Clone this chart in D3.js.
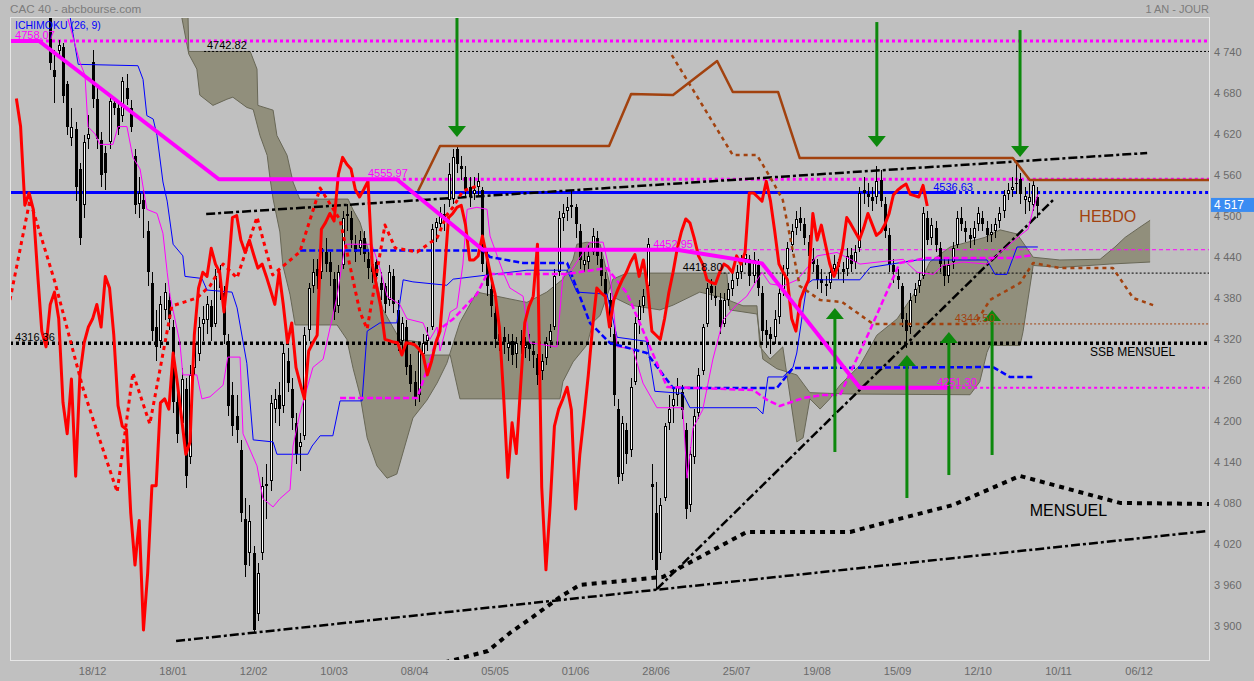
<!DOCTYPE html>
<html>
<head>
<meta charset="utf-8">
<title>CAC 40 - Ichimoku</title>
<script src="https://cdn.jsdelivr.net/npm/d3@7/dist/d3.min.js"></script>
<style>
  body { margin: 0; background: #c0c0c0; }
  svg  { display: block; font-family: "Liberation Sans", Arial, sans-serif; }
</style>
</head>
<body>
<svg id="chart" width="1254" height="681"></svg>
<script>
"use strict"

// bars are trading-day indexes, bar 0 sits at the left edge of the plot
var tickBars   = [19, 38, 57, 76, 95, 114, 133, 152, 171, 190, 209, 228, 247, 266];
var tickLabels = ['18/12', '18/01', '12/02', '10/03', '08/04', '05/05', '01/06',
                  '28/06', '25/07', '19/08', '15/09', '12/10', '10/11', '06/12'];
var priceTicks = [3900, 3960, 4020, 4080, 4140, 4200, 4260, 4320, 4380, 4440,
                  4500, 4560, 4620, 4680, 4740];
var lastPrice   = 4517;
var firstBar    = 9;
var chikouShift = 26;

// daily candles [open, high, low, close], bar 9 .. bar 242
var candles = [
  [4800,4830,4715,4726],[4716,4745,4668,4706],[4743,4760,4735,4752],[4749,4755,4668,4677],
  [4695,4700,4620,4633],[4616,4660,4605,4633],[4630,4640,4524,4544],[4571,4580,4460,4470],
  [4518,4620,4500,4611],[4615,4650,4600,4622],[4727,4745,4660,4674],[4674,4690,4600,4615],
  [4613,4625,4545,4562],[4594,4605,4540,4565],[4610,4680,4600,4671],[4668,4675,4650,4660],
  [4660,4670,4620,4630],[4648,4705,4640,4700],[4689,4710,4665,4674],[4660,4672,4625,4633],
  [4590,4600,4505,4518],[4520,4560,4500,4536],[4525,4540,4470,4512],[4480,4495,4400,4420],
  [4405,4420,4320,4334],[4340,4365,4290,4311],[4320,4385,4310,4373],[4365,4405,4350,4391],
  [4380,4390,4335,4352],[4340,4350,4215,4230],[4230,4260,4170,4184],[4200,4280,4190,4264],
  [4250,4265,4105,4122],[4150,4285,4140,4270],[4280,4330,4270,4317],[4300,4355,4290,4340],
  [4345,4370,4320,4352],[4350,4385,4330,4373],[4370,4380,4320,4340],[4345,4425,4340,4414],
  [4410,4430,4380,4397],[4390,4400,4315,4328],[4320,4330,4210,4225],[4240,4260,4180,4195],
  [4210,4240,4170,4190],[4160,4175,4055,4068],[4060,4090,3975,3992],[4010,4080,3990,4057],
  [4010,4020,3892,3897],[3920,3995,3910,3981],[4010,4120,4000,4108],[4110,4140,4060,4108],
  [4115,4240,4100,4229],[4220,4250,4200,4235],[4240,4260,4195,4220],[4225,4315,4215,4302],
  [4290,4310,4245,4258],[4250,4265,4190,4207],[4200,4215,4140,4154],[4165,4185,4130,4172],
  [4180,4340,4175,4328],[4335,4405,4320,4397],[4400,4440,4390,4420],[4425,4440,4395,4414],
  [4420,4465,4410,4455],[4450,4470,4420,4432],[4435,4450,4400,4420],[4410,4420,4350,4362],
  [4370,4430,4360,4420],[4430,4510,4425,4500],[4505,4520,4480,4503],[4500,4510,4455,4467],
  [4460,4475,4435,4449],[4455,4480,4445,4467],[4470,4480,4435,4446],[4440,4450,4410,4426],
  [4420,4445,4405,4432],[4435,4440,4400,4414],[4405,4420,4380,4394],[4400,4405,4360,4373],
  [4380,4430,4370,4420],[4415,4425,4360,4373],[4365,4380,4305,4317],[4320,4355,4300,4346],
  [4340,4350,4270,4281],[4285,4300,4245,4257],[4260,4275,4225,4235],[4240,4315,4230,4305],
  [4300,4330,4295,4317],[4320,4340,4305,4328],[4340,4490,4335,4483],[4485,4500,4465,4493],
  [4490,4515,4480,4506],[4505,4520,4480,4495],[4525,4580,4515,4563],[4527,4600,4520,4588],
  [4600,4604,4565,4578],[4575,4590,4555,4571],[4560,4575,4530,4541],[4545,4560,4515,4530],
  [4535,4560,4525,4541],[4545,4565,4530,4553],[4540,4545,4420,4432],[4440,4455,4385,4400],
  [4395,4410,4355,4370],[4360,4375,4310,4322],[4330,4345,4305,4320],[4325,4340,4300,4318],
  [4310,4330,4290,4317],[4320,4330,4285,4299],[4300,4325,4280,4317],[4320,4335,4300,4316],
  [4310,4325,4295,4314],[4315,4330,4290,4308],[4305,4315,4280,4299],[4295,4300,4255,4270],
  [4275,4300,4262,4290],[4295,4325,4285,4317],[4320,4345,4310,4334],[4340,4425,4335,4414],
  [4420,4510,4415,4500],[4500,4520,4480,4506],[4510,4530,4495,4515],[4515,4540,4500,4518],
  [4515,4520,4470,4490],[4480,4490,4425,4438],[4430,4455,4420,4438],[4435,4460,4425,4444],
  [4450,4485,4445,4473],[4470,4480,4430,4444],[4440,4450,4400,4414],[4410,4420,4375,4388],
  [4380,4390,4325,4340],[4330,4340,4225,4240],[4220,4235,4110,4120],[4125,4210,4115,4200],
  [4190,4200,4140,4155],[4160,4265,4150,4252],[4260,4355,4255,4346],[4350,4380,4330,4370],
  [4370,4395,4360,4385],[4400,4470,4395,4461],[4111,4140,4000,4106],[4068,4113,3956,3985],
  [4010,4090,4000,4080],[4090,4200,4085,4195],[4200,4240,4190,4220],[4225,4250,4200,4235],
  [4240,4265,4225,4252],[4245,4255,4205,4219],[4190,4200,4060,4074],[4080,4165,4070,4154],
  [4150,4220,4140,4210],[4215,4280,4205,4270],[4275,4345,4270,4340],[4345,4405,4340,4397],
  [4400,4410,4380,4390],[4385,4400,4370,4385],[4380,4390,4330,4340],[4345,4390,4340,4379],
  [4380,4405,4370,4395],[4395,4420,4385,4409],[4410,4430,4400,4420],[4420,4445,4410,4435],
  [4440,4455,4430,4446],[4440,4445,4400,4414],[4415,4450,4405,4438],[4430,4440,4385,4397],
  [4390,4400,4320,4334],[4335,4350,4310,4328],[4330,4340,4300,4322],[4325,4365,4315,4352],
  [4355,4400,4345,4390],[4395,4430,4385,4420],[4425,4465,4415,4455],[4460,4490,4450,4480],
  [4485,4510,4475,4498],[4500,4515,4480,4492],[4490,4500,4460,4470],[4465,4475,4430,4444],
  [4440,4455,4420,4432],[4430,4440,4395,4409],[4410,4425,4390,4405],[4400,4415,4385,4403],
  [4405,4430,4395,4420],[4425,4445,4415,4432],[4435,4440,4410,4428],[4425,4435,4405,4420],
  [4425,4455,4415,4444],[4445,4455,4420,4432],[4435,4460,4425,4449],[4455,4545,4450,4536],
  [4540,4560,4520,4536],[4535,4550,4515,4530],[4530,4545,4510,4524],[4530,4575,4520,4553],
  [4555,4570,4515,4524],[4520,4530,4470,4480],[4475,4485,4420,4432],[4430,4440,4405,4420],
  [4415,4425,4395,4409],[4400,4405,4340,4352],[4350,4360,4310,4334],[4340,4390,4330,4379],
  [4385,4405,4375,4395],[4400,4420,4390,4409],[4415,4515,4410,4506],[4500,4510,4460,4467],
  [4470,4500,4460,4489],[4485,4495,4450,4460],[4455,4465,4420,4432],[4430,4440,4400,4414],
  [4415,4440,4405,4430],[4435,4465,4425,4455],[4460,4510,4455,4500],[4500,4515,4480,4490],
  [4485,4495,4465,4479],[4475,4485,4455,4468],[4470,4495,4460,4485],[4490,4515,4480,4506],
  [4500,4510,4480,4490],[4485,4495,4465,4474],[4475,4490,4465,4479],[4480,4500,4470,4490],
  [4495,4515,4485,4506],[4510,4540,4500,4533],[4535,4550,4525,4540],[4540,4560,4530,4545],
  [4550,4582,4535,4549],[4556,4565,4520,4534],[4525,4545,4505,4532],[4523,4550,4510,4530],
  [4518,4555,4510,4547],[4530,4545,4500,4517]
];

// ichimoku lines [bar, value]
var tenkanPts = [[13.2,4790],[16,4727],[17.2,4708],[17.9,4633],[19.6,4622],[20.7,4607],[23.8,4607],
  [25,4633],[27.1,4633],[28.5,4588],[30.2,4571],[31.8,4512],[34.2,4506],[35.6,4477],[36.6,4420],
  [37.3,4385],[39.6,4317],[40.3,4270],[43.6,4270],[44.8,4235],[46.7,4238],[49.8,4255],[50.9,4296],
  [53.8,4296],[54.5,4184],[57.8,4137],[59.2,4089],[61.6,4077],[63.2,4089],[65.6,4102],[66.3,4166],
  [67.9,4213],[71,4281],[73.4,4293],[76.7,4385],[78.6,4461],[84.9,4461],[86.8,4426],[88.5,4385],
  [91.5,4373],[93.2,4352],[97,4346],[98.6,4322],[100.3,4340],[101,4305],[103.4,4362],[105,4368],
  [106.4,4432],[107.4,4512],[109.7,4515],[112.1,4512],[112.8,4473],[115.9,4420],[117.5,4397],
  [120.6,4385],[122.2,4317],[128.6,4311],[130,4414],[131.7,4420],[136.4,4464],[139.5,4464],
  [141.1,4420],[142.8,4311],[146.5,4308],[148.9,4258],[152.2,4222],[158.3,4222],[159.3,4119],
  [160.7,4192],[163,4219],[165.4,4293],[167.8,4350],[171.1,4373],[173.4,4385],[177,4420],
  [178.9,4403],[182,4400],[185.3,4409],[190,4444],[194.7,4449],[200.1,4432],[210.3,4439],
  [213.6,4420],[217.4,4417],[219.7,4430],[224.4,4435],[230.1,4432],[233.2,4449],[237.9,4474],
  [239.8,4483],[241,4512],[242.1,4534]];
var kijunPts = [[13.5,4800],[15.6,4724],[29.7,4722],[30.9,4702],[31.8,4649],[33.3,4644],[34.2,4620],
  [35.6,4552],[36.6,4524],[38,4461],[40.3,4444],[40.8,4414],[44.8,4411],[46,4394],[51.9,4391],
  [53.1,4368],[55.4,4287],[56.9,4175],[61.6,4172],[62.5,4154],[69.8,4154],[70.8,4166],[72.7,4181],
  [75.7,4181],[77.4,4232],[82.6,4232],[83.8,4334],[86.8,4346],[90.8,4346],[92.3,4409],[94.6,4406],
  [102.6,4401],[104.1,4410],[121.5,4423],[131,4423],[133.3,4391],[140.4,4388],[142.8,4325],
  [149.8,4319],[151.7,4246],[158.3,4243],[160,4222],[175.8,4222],[177.2,4213],[178.4,4267],
  [181.9,4267],[184.3,4281],[185.2,4302],[187.6,4403],[189,4409],[200.1,4409],[202.5,4427],
  [213.6,4438],[230.1,4438],[232,4417],[234.8,4417],[237.2,4457],[242.1,4457]];
var ssaPts = [[39.6,4807],[41.7,4739],[43.6,4717],[44.3,4679],[47.4,4664],[50.7,4673],[52.1,4676],
  [55.4,4661],[56.9,4658],[58.5,4620],[60.2,4591],[60.9,4556],[61.6,4527],[63.2,4479],[63.9,4430],
  [65.6,4387],[66.8,4343],[76.7,4343],[79,4322],[80.5,4279],[82.1,4241],[83.8,4178],[86.1,4137],
  [88.5,4119],[90.8,4125],[92.7,4166],[94.6,4207],[97.9,4233],[100.3,4258],[102.6,4287],
  [105.7,4347],[109.7,4391],[117.5,4381],[121.5,4376],[126.2,4391],[130,4410],[132.4,4439],
  [133.3,4461],[135.7,4464],[138.8,4461],[141.8,4384],[145.8,4372],[152.9,4365],[156,4372],
  [162.3,4391],[167.1,4384],[172.5,4371],[175.8,4371],[176.5,4311],[178.9,4293],[181.9,4311],
  [185.2,4172],[186.7,4178],[188.3,4235],[190.7,4220],[193,4235],[195.4,4255],[200.1,4284],
  [204.1,4328],[208.9,4352],[213.6,4395],[216.6,4435],[221.4,4457],[229.6,4471],[233.2,4482],
  [237.2,4476],[241,4442],[247.3,4438],[256.8,4439],[260.3,4457],[262.7,4471],[266.2,4486],
  [268.6,4496]];
var ssbPts = [[40.1,4800],[41.5,4800],[41.7,4742.82],[56.2,4742.82],[57.8,4717],[58,4664],
  [61.6,4657],[62.5,4620],[64.9,4591],[66.3,4552],[67.5,4533],[67.9,4527],[79.3,4527],[80.5,4511],
  [82.1,4493],[85.2,4430],[87.5,4366],[91.5,4322],[96.3,4318],[97,4299],[103.4,4299],[105.7,4235],
  [129.3,4235],[130,4260],[132.4,4289],[135.7,4314],[137.1,4347],[138.8,4357],[141.8,4410],
  [145.1,4418.8],[168.7,4418.8],[169.4,4365],[175.8,4359],[177.2,4293],[180.5,4279],[185.2,4270],
  [188.3,4244],[197.8,4242],[226.1,4241],[228.4,4260],[230.1,4303],[230.8,4313],[237.9,4313],
  [238.6,4333],[241,4430],[247.3,4427],[259.1,4432],[268.6,4435]];

// hand-drawn studies [bar, value]
var monthlyPts  = [[-0.5,4758.07],[6.35,4758.07],[48.8,4555.97],[90.8,4555.97],[111.1,4452.95],
  [156.9,4452.95],[177,4433],[200.1,4251.3],[221.4,4251.3]];
var monthlyLagPts = [[77.4,4236.2],[95.6,4236.2],[98,4278.6],[101,4337.1],[104.1,4351.7],
  [109.7,4388.2],[112.1,4417.5],[131,4417.5],[140.4,4426.3],[145.1,4389.7],[154.6,4252.3],
  [174.9,4247.9],[178.2,4233.3],[181.2,4224.5],[186.7,4236.2],[191.4,4240.6],[195.4,4240.6],
  [197.8,4272.8],[202.5,4335.6],[209.5,4433.6],[215.9,4440.9],[236.2,4440.9],[241,4445.3]];
var weeklyPts = [[95.8,4538.8],[101,4604.6],[140.9,4604.6],[146.1,4680.6],[156,4679.1],
  [166.4,4728.8],[170.1,4683.5],[180.8,4683.5],[185.9,4587],[236.2,4587],[240.2,4555],[282.5,4555]];
var weeklyLagPts = [[155.7,4737.6],[170.1,4591.4],[175.8,4591.4],[178.9,4559.3],[181.9,4525.7],
  [185.9,4399.9],[190.7,4379.5],[195.9,4376.5],[203.2,4344.5],[227.3,4344.5],[230.8,4379.5],
  [237.9,4404.3],[241,4433.6],[247.3,4426.3],[259.8,4426.3],[264.6,4382.4],[269.3,4372]];
var blueDashPts = [[68,4452],[111.1,4452],[112.8,4442.3],[120.6,4433.6],[131,4433.6],
  [136.4,4345.8],[141.1,4316.6],[149.8,4302],[156,4250.8],[180.5,4250.8],[184.3,4280],
  [231.5,4281.5],[235.5,4266.9],[241,4266.9]];
var redDotPts = [[-0.5,4379.5],[4.2,4525.7],[10.1,4405.8],[16.7,4250.8],[20.7,4174.8],
  [24.8,4098.8],[28.5,4272.8],[32.5,4198.2],[37.7,4370.7],[43.6,4382.4],[46.7,4400],[49.8,4432.1],
  [53.1,4411.7],[57.8,4500.8],[61.5,4416.1],[67.9,4449.7],[72.7,4543.2],[77.4,4496.4],
  [82.1,4361.9],[83.8,4337.1],[88,4489.1],[90.4,4455.5],[95.6,4449.7],[100.3,4470.1],
  [102.6,4503.7],[104.1,4515.4],[106.4,4538.8],[110.4,4547.6]];
var mensuelPts = [[99.8,3845.9],[112.3,3866.4],[117.5,3892.7],[122.9,3916.1],[129.3,3945.3],
  [134,3962.9],[153.6,3974.6],[173.4,4040.4],[197.8,4040.4],[210.3,4060.9],[222.1,4079.9],
  [237.9,4122.3],[261.5,4082.8],[282.5,4081.3]];

// trend lines [bar1, value1, bar2, value2]
var trendLines = [[45.8,4505.2,267.9,4594.4],[38.7,3881.0,282.2,4041.8],[152.2,3957.0,245.7,4525.6]];

// horizontal levels
var levelValues   = [4758.07, 4742.82, 4555.97, 4536.63, 4452.95, 4418.80, 4344.50, 4316.36, 4251.30];
var levelStart    = [-0.5, 45.3, 90.8, 222.1, 160, 167, 228, -0.5, 221.4];
var levelLabelBar = [0.7, 46, 84, 217.4, 151.3, 158.3, 222.5, 0.7, 218.3];
var blueSolidEnd  = 222.1;

// arrows [bar, from value, to value]
var downArrows = [[105.0,4793,4617.7],[204.1,4785.8,4603.2],[237.9,4774.1,4588.5]];
var upArrows   = [[194.2,4157.3,4367.8],[211.2,4090.0,4299.1],[221.1,4123.6,4332.7],[231.3,4152.9,4364.8]];

// ---------------------------------------------------------------------
var chartW = 1254, chartH = 681;
var pLeft = 10, pRight = 1209, pTop = 17, pBottom = 660;
var MAGENTA = '#ff00ff', BLUE = '#0000ff', RED = '#ff0000';
var BROWN = '#a2420f', GREEN = '#0c880c', CLOUD = '#918f7c';

var x = d3.scaleLinear().domain([-0.5, 282.5]).range([pLeft, pRight]);
var y = d3.scaleLinear().domain([3853.2, 4793.2]).range([pBottom, pTop]);
var fmt = d3.formatLocale({decimal: '.', thousands: ' ', grouping: [3], currency: ['', '']}).format(',');

var svg = d3.select('#chart');
svg.append('rect').attr('width', chartW).attr('height', chartH).attr('fill', '#c0c0c0');
svg.append('defs').append('clipPath').attr('id', 'plotClip')
    .append('rect').attr('x', pLeft).attr('y', pTop)
    .attr('width', pRight - pLeft).attr('height', pBottom - pTop);

var plot = svg.append('g').attr('clip-path', 'url(#plotClip)');
var line = d3.line().x(d => x(d[0])).y(d => y(d[1]));

function path(list, color, w, dash) {
    return plot.append('path')
        .attr('d', line(list))
        .attr('fill', 'none')
        .attr('stroke', color)
        .attr('stroke-width', w)
        .attr('stroke-dasharray', dash || null)
        .attr('stroke-linejoin', 'round');
}

// cloud
plot.append('path')
    .attr('d', line(ssaPts.concat(ssbPts.slice().reverse())) + 'Z')
    .attr('fill', CLOUD);
path(ssaPts, '#686756', 1);
path(ssbPts, '#686756', 1);

// levels
var levelStyle = [
    {color: MAGENTA, w: 3,   dash: '3,3', text: MAGENTA},
    {color: '#000',  w: 1,   dash: '2,2', text: '#000'},
    {color: MAGENTA, w: 3,   dash: '3,3', text: MAGENTA},
    {color: BLUE,    w: 3,   dash: '3,3', text: BLUE},
    {color: MAGENTA, w: 1,   dash: '4,3', text: MAGENTA},
    {color: '#000',  w: 1,   dash: '2,2', text: '#000'},
    {color: BROWN,   w: 1,   dash: '2,2', text: BROWN},
    {color: '#000',  w: 3.5, dash: '3,3', text: '#000'},
    {color: MAGENTA, w: 2,   dash: '3,3', text: MAGENTA}
];
levelValues.forEach(function(v, i) {
    var s = levelStyle[i];
    path([[levelStart[i], v], [282.5, v]], s.color, s.w, s.dash);
});
path([[-0.5, levelValues[3]], [blueSolidEnd, levelValues[3]]], BLUE, 3);

// monthly dotted and trend lines
path(mensuelPts, '#000', 4, '5,5');
trendLines.forEach(function(t) {
    path([[t[0], t[1]], [t[2], t[3]]], '#000', 2.5, '9,3,3,3');
});

// candles
var bars = candles.map((c, i) => ({k: firstBar + i, o: c[0], h: c[1], l: c[2], c: c[3]}));
var cx = d => Math.round(x(d.k));
var cg = plot.append('g').attr('shape-rendering', 'crispEdges');
cg.selectAll('line').data(bars).join('line')
    .attr('x1', d => cx(d) + 0.5).attr('x2', d => cx(d) + 0.5)
    .attr('y1', d => y(d.h)).attr('y2', d => y(d.l))
    .attr('stroke', '#000').attr('stroke-width', 1);
cg.selectAll('rect.down').data(bars.filter(d => d.c < d.o)).join('rect')
    .attr('class', 'down')
    .attr('x', d => cx(d) - 1).attr('width', 3)
    .attr('y', d => y(d.o)).attr('height', d => Math.max(1, y(d.c) - y(d.o)))
    .attr('fill', '#000');
cg.selectAll('rect.up').data(bars.filter(d => d.c >= d.o)).join('rect')
    .attr('class', 'up')
    .attr('x', d => cx(d) - 0.5).attr('width', 2)
    .attr('y', d => y(d.c) + 0.5).attr('height', d => Math.max(1, y(d.o) - y(d.c) - 1))
    .attr('fill', '#fff').attr('stroke', '#000').attr('stroke-width', 1);

// ichimoku lines
path(kijunPts, BLUE, 1);
path(tenkanPts, MAGENTA, 1);

// studies
path(blueDashPts, BLUE, 2.5, '6,3');
path(monthlyLagPts, MAGENTA, 2.5, '6,3');
path(redDotPts, RED, 3, '4,4');
path(weeklyLagPts, BROWN, 2.5, '4,4');
path(weeklyPts, BROWN, 2.5);

// chikou: the closes drawn 26 bars back
var chikou = bars.filter(d => d.k >= 27).map(d => [d.k - chikouShift, d.c]);
path(chikou, RED, 3);

path(monthlyPts, MAGENTA, 4);

// arrows
function arrow(a) {
    var ax = x(a[0]), y1 = y(a[1]), y2 = y(a[2]);
    var dir = y2 > y1 ? 1 : -1;
    plot.append('line')
        .attr('x1', ax).attr('x2', ax)
        .attr('y1', y1).attr('y2', y2 - dir * 10)
        .attr('stroke', GREEN).attr('stroke-width', 3);
    plot.append('path')
        .attr('d', 'M' + (ax - 9) + ',' + (y2 - dir * 11) + 'L' + (ax + 9) + ',' + (y2 - dir * 11) +
                   'L' + ax + ',' + y2 + 'Z')
        .attr('fill', GREEN);
}
downArrows.forEach(arrow);
upArrows.forEach(arrow);

// frame
svg.append('rect')
    .attr('x', pLeft + 0.5).attr('y', pTop + 0.5)
    .attr('width', pRight - pLeft).attr('height', pBottom - pTop)
    .attr('fill', 'none').attr('stroke', '#e6e6e6');

// level labels
var labels = svg.append('g').attr('font-size', 11);
levelValues.forEach(function(v, i) {
    labels.append('text')
        .attr('x', x(levelLabelBar[i])).attr('y', y(v) - 2)
        .attr('fill', levelStyle[i].text)
        .text(v.toFixed(2));
});
labels.append('text').attr('x', x(254.4)).attr('y', y(4297.6))
    .attr('font-size', 12).attr('fill', '#000').text('SSB MENSUEL');
labels.append('text').attr('x', x(251.9)).attr('y', y(4493.5))
    .attr('font-size', 16).attr('fill', BROWN).text('HEBDO');
labels.append('text').attr('x', x(240.2)).attr('y', y(4063.7))
    .attr('font-size', 16).attr('fill', '#000').text('MENSUEL');
labels.append('text').attr('x', 15).attr('y', 29)
    .attr('font-size', 10.5).attr('fill', BLUE).text('ICHIMOKU (26, 9)');

// titles
svg.append('text').attr('x', 10).attr('y', 13).attr('font-size', 11.7)
    .attr('fill', '#7c7c7c').text('CAC 40 - abcbourse.com');
svg.append('text').attr('x', pRight).attr('y', 13).attr('font-size', 11)
    .attr('text-anchor', 'end').attr('fill', '#7c7c7c').text('1 AN - JOUR');

// axes
var yAxis = svg.append('g').attr('font-size', 11).attr('fill', '#6a6a6a');
yAxis.selectAll('text').data(priceTicks).join('text')
    .attr('x', pRight + 5).attr('y', d => y(d) + 2.5)
    .text(d => fmt(d));
var xAxis = svg.append('g').attr('font-size', 11).attr('fill', '#6a6a6a').attr('text-anchor', 'middle');
xAxis.selectAll('text').data(tickBars).join('text')
    .attr('x', d => x(d)).attr('y', 675)
    .text((d, i) => tickLabels[i]);

// last price tag, kept short so the 4 500 label below it stays readable
svg.append('rect')
    .attr('x', pRight + 2).attr('y', y(lastPrice) - 8)
    .attr('width', chartW - pRight - 2).attr('height', 14)
    .attr('fill', '#3a8cf2');
svg.append('text')
    .attr('x', pRight + 5).attr('y', y(lastPrice) + 3.5)
    .attr('font-size', 12).attr('fill', '#fff')
    .text(fmt(lastPrice));
</script>
</body>
</html>
